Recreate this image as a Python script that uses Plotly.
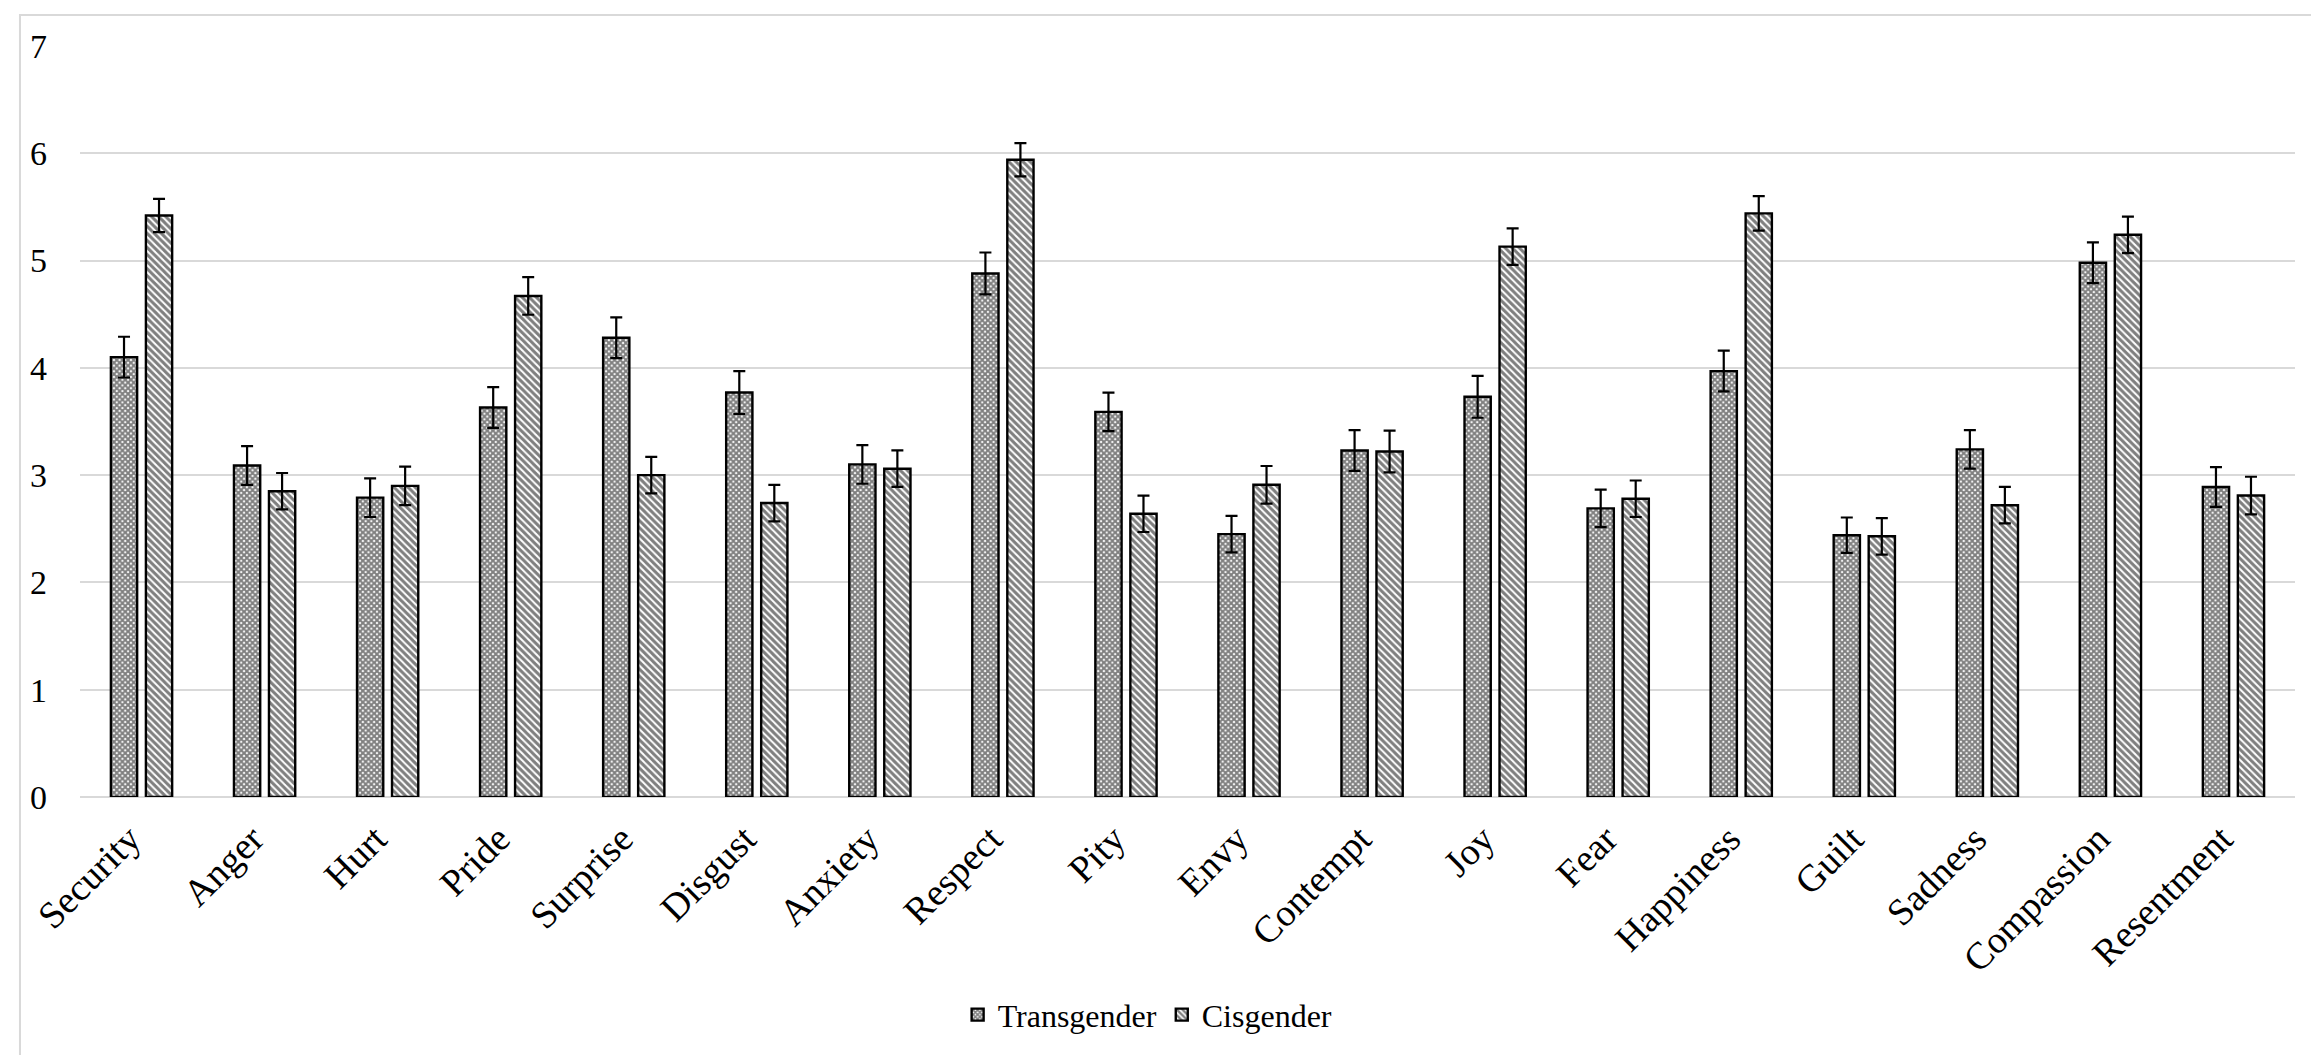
import plotly.graph_objects as go

categories = ["Security", "Anger", "Hurt", "Pride", "Surprise", "Disgust", "Anxiety",
              "Respect", "Pity", "Envy", "Contempt", "Joy", "Fear", "Happiness",
              "Guilt", "Sadness", "Compassion", "Resentment"]

transgender = [4.10, 3.09, 2.79, 3.63, 4.28, 3.77, 3.10, 4.88, 3.59, 2.45, 3.23, 3.73,
               2.69, 3.97, 2.44, 3.24, 4.98, 2.89]
transgender_err = [0.19, 0.18, 0.18, 0.19, 0.19, 0.20, 0.18, 0.195, 0.18, 0.17, 0.19, 0.195,
                   0.175, 0.19, 0.165, 0.18, 0.19, 0.185]

cisgender = [5.42, 2.85, 2.90, 4.67, 3.00, 2.74, 3.06, 5.94, 2.64, 2.91, 3.22, 5.13,
             2.78, 5.44, 2.43, 2.72, 5.24, 2.81]
cisgender_err = [0.155, 0.17, 0.18, 0.175, 0.17, 0.17, 0.17, 0.155, 0.17, 0.175, 0.195, 0.17,
                 0.17, 0.16, 0.17, 0.17, 0.17, 0.175]

y_ticks = [0, 1, 2, 3, 4, 5, 6, 7]

FONT = "Liberation Serif, Times New Roman, serif"

fig = go.Figure()
fig.add_trace(go.Bar(
    name="Transgender", x=categories, y=transgender,
    marker=dict(color="white", line=dict(color="black", width=2.4),
                pattern=dict(shape="x", size=4, solidity=0.75, fgcolor="black", bgcolor="white")),
    error_y=dict(type="data", array=transgender_err, visible=True, color="black",
                 thickness=2.2, width=6),
))
fig.add_trace(go.Bar(
    name="Cisgender", x=categories, y=cisgender,
    marker=dict(color="white", line=dict(color="black", width=2.4),
                pattern=dict(shape="\\", size=5, solidity=0.6, fgcolor="black", bgcolor="white")),
    error_y=dict(type="data", array=cisgender_err, visible=True, color="black",
                 thickness=2.2, width=6),
))

fig.update_layout(
    width=2319, height=1055,
    margin=dict(l=72, r=32, t=38, b=266),
    paper_bgcolor="white", plot_bgcolor="white",
    barmode="group", bargap=0.431, bargroupgap=0.25,
    font=dict(family=FONT, color="black"),
    showlegend=True,
    legend=dict(orientation="h", x=0.482, xanchor="center", y=-0.29, yanchor="middle",
                font=dict(family=FONT, size=32, color="black"),
                itemwidth=30, traceorder="normal"),
    xaxis=dict(tickangle=-45, tickfont=dict(family=FONT, size=38, color="black"),
               showgrid=False, showline=False, ticks="", ticklabelstandoff=11,
               ticklabelshift=-12),
    yaxis=dict(range=[0, 7], tickvals=y_ticks, tickfont=dict(family=FONT, size=34, color="black"),
               showgrid=True, gridcolor="#d9d9d9", gridwidth=2, zeroline=True,
               zerolinecolor="#d9d9d9", zerolinewidth=2, showline=False, ticks="",
               ticklabelstandoff=32),
    shapes=[dict(type="rect", xref="paper", yref="paper",
                 x0=-0.0271, x1=1.0126, y0=-0.3475, y1=1.0413,
                 line=dict(color="#d9d9d9", width=2), fillcolor="rgba(0,0,0,0)",
                 layer="below")],
)

fig.write_html("out.html")
